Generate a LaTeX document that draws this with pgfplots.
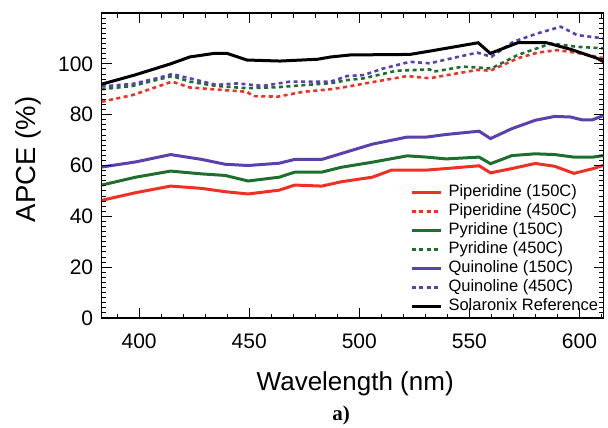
\documentclass[border=0pt]{standalone}
\usepackage{fontspec}
\setmainfont{Liberation Sans}
\newfontfamily\serifb{Liberation Serif}
\usepackage{pgfplots}
\pgfplotsset{compat=1.18}

\definecolor{apred}{HTML}{EE3124}
\definecolor{apgreen}{HTML}{1E6E2E}
\definecolor{appurple}{HTML}{5B40B0}

\begin{document}
\begin{tikzpicture}
\path (-101.7pt,-109pt) rectangle (506.3pt,318pt);
\begin{axis}[
    scale only axis,
    width=502pt, height=305pt,
    xmin=383, xmax=611, ymin=0, ymax=120,
    xtick={400,450,...,600}, minor xtick={390,400,...,610},
    ytick={0,20,...,100}, minor ytick={0,2,...,120},
    tick align=inside,
    major tick length=10pt, minor tick length=4.5pt,
    tick style={black, line width=1pt},
    axis line style={black, line width=1.2pt},
    /pgf/number format/assume math mode=true,
    ticklabel style={font=\fontsize{21}{24}\selectfont},
    xticklabel style={yshift=-12pt},
    yticklabel style={xshift=-5pt},
    xlabel={Wavelength (nm)},
    ylabel={APCE (\%)},
    xlabel style={font=\fontsize{26}{30}\selectfont, at={(axis description cs:0.505,-0.215)}, anchor=center},
    ylabel style={font=\fontsize{27.5}{30}\selectfont, at={(axis description cs:-0.1468,0.52)}, anchor=center},
    legend cell align={left},
    legend style={at={(1,0)}, anchor=south east, xshift=-4pt, yshift=2pt,
        draw=none, fill=none, inner sep=0pt, column sep=5pt,
        font=\fontsize{16.5}{19}\selectfont,
        nodes={text height=12.5pt, text depth=3.5pt, inner sep=1.5pt}},
    legend image code/.code={\draw[#1] (0pt,0pt) -- (29pt,0pt);},
]
\addplot[apred, line width=3pt] coordinates {
(383,46.3) (398.4,49.3) (414.3,51.9) (428.4,51) (439,49.7) (449.5,48.8)
(463.6,50.3) (470.7,52.3) (483,51.9) (491.8,53.6) (505.9,55.4) (514.7,58.2)
(530.6,58.2) (539.4,58.8) (554.4,59.9) (559.6,57.1) (569.3,58.8) (579.9,60.8)
(588.7,59.7) (597.5,56.9) (606.3,58.8) (611,60.1)
};
\addlegendentry{Piperidine (150C)}
\addplot[apred, line width=2.6pt, dash pattern=on 4pt off 3.5pt] coordinates {
(383,85.1) (397,87.7) (415,93) (423,90.7) (438,89.7) (449,89) (451.7,87.3)
(463,87.1) (474.6,89) (487,90) (494.5,91) (502,92.2) (521.8,95.2) (532,94.3)
(536.8,95.1) (553.6,97.6) (559.5,97.3) (572,102.2) (581,104.4) (590,105.4)
(599,104.3) (611,102.2)
};
\addlegendentry{Piperidine (450C)}
\addplot[apgreen, line width=3pt] coordinates {
(383,52.3) (398.4,55.4) (414.3,57.8) (428.4,56.7) (439,56.1) (449.5,53.9)
(463.6,55.4) (470.7,57.4) (483,57.4) (491.8,59.3) (505.9,61.3) (521.8,63.8)
(530.6,63.3) (539.4,62.6) (554.4,63.3) (559.6,60.7) (569.3,63.9) (579.9,64.6)
(588.7,64.3) (597.5,63.3) (606,63.3) (611,63.9)
};
\addlegendentry{Pyridine (150C)}
\addplot[apgreen, line width=2.6pt, dash pattern=on 4pt off 3.5pt] coordinates {
(383,90) (397,91.3) (415,95.2) (423,93) (435,91.3) (449,90.4) (462.7,90.8)
(476,91.7) (487,92.4) (494.5,93.6) (502,94.3) (517,97.3) (532,97.8)
(533.6,96.9) (547,98.9) (560,98.2) (572,103.5) (587,108) (599,106.7) (611,106.1)
};
\addlegendentry{Pyridine (450C)}
\addplot[appurple, line width=3pt] coordinates {
(383,59.4) (398.4,61.4) (414.3,64.3) (428.4,62.4) (439,60.5) (449.5,60)
(463.6,60.9) (470.7,62.4) (483,62.4) (491.8,64.7) (505.9,68.4) (521.8,71.2)
(530.6,71.2) (539.4,72.2) (554.4,73.5) (559.6,70.6) (569.3,74.5) (579.9,77.8)
(588.7,79.3) (595.8,79.1) (601,78) (606,78) (611,79.7)
};
\addlegendentry{Quinoline (150C)}
\addplot[appurple, line width=2.6pt, dash pattern=on 4pt off 3.5pt] coordinates {
(383,91.1) (397,92.1) (408,94.3) (415,96) (423,94.3) (435,91.7) (444.6,92.3)
(456,91.3) (468.6,93) (487,93) (494.5,95.2) (502,95.6) (511,98.2) (523,100.8)
(532,100.2) (540,101.8) (553.6,104.4) (560,102.8) (570,108.7) (581,112)
(591.5,114.6) (599,111.3) (611,110)
};
\addlegendentry{Quinoline (450C)}
\addplot[black, line width=3pt] coordinates {
(383,92) (398,95.6) (414.3,100) (423,102.7) (434,104.1) (440,104.1) (449,101.5)
(464,101.1) (481,101.8) (487,102.7) (496,103.5) (523,103.7) (532,105)
(554,108.3) (559.5,104.1) (572,108.3) (585,108.3) (596,105.7) (608,102.2)
(611,100.8)
};
\addlegendentry{Solaronix Reference}
% tick marks drawn explicitly along the frame
\pgfplotsinvokeforeach{390,400,...,610}{
  \draw[black, line width=1pt] (axis cs:#1,0) -- ++(0pt,4.5pt);
  \draw[black, line width=1pt] (axis cs:#1,120) -- ++(0pt,-4.5pt);
}
\pgfplotsinvokeforeach{400,450,...,600}{
  \draw[black, line width=1pt] (axis cs:#1,0) -- ++(0pt,10pt);
  \draw[black, line width=1pt] (axis cs:#1,120) -- ++(0pt,-10pt);
}
\pgfplotsinvokeforeach{0,2,...,120}{
  \draw[black, line width=1pt] (axis cs:383,#1) -- ++(4.5pt,0pt);
  \draw[black, line width=1pt] (axis cs:611,#1) -- ++(-4.5pt,0pt);
}
\pgfplotsinvokeforeach{0,20,...,100}{
  \draw[black, line width=1pt] (axis cs:383,#1) -- ++(9pt,0pt);
  \draw[black, line width=1pt] (axis cs:611,#1) -- ++(-9pt,0pt);
}
\end{axis}
\node[font=\serifb\bfseries\fontsize{21}{24}\selectfont] at (239.3pt,-97pt) {a)};
\end{tikzpicture}
\end{document}
